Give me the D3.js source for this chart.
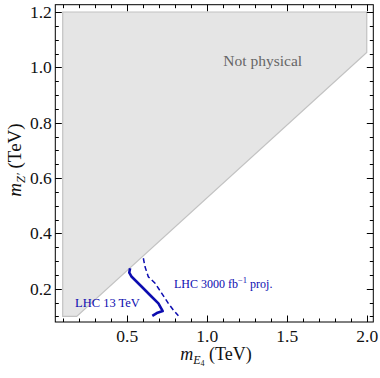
<!DOCTYPE html>
<html lang="en">
<head>
<meta charset="UTF-8">
<title>Z' vs E4 mass plane</title>
<script src="https://d3js.org/d3.v7.min.js"></script>
<style>
  body { margin: 0; background: #fff; }
  text { font-family: "Liberation Serif", "Times New Roman", serif; }
</style>
</head>
<body>
<svg id="chart" width="380" height="378"></svg>
<script>
// shaded "not physical" region corners (TeV)
const regionX = [0.1, 0.1, 2.0, 2.0, 0.1875];
const regionY = [0.1, 1.2, 1.2, 1.054, 0.1];

// LHC 13 TeV limit (solid)
const lhc13X = [0.521, 0.516, 0.531, 0.594, 0.656, 0.698, 0.725, 0.688, 0.660];
const lhc13Y = [0.274, 0.258, 0.243, 0.207, 0.171, 0.147, 0.119, 0.112, 0.102];

// 3000 fb^-1 projection (dashed)
const projX = [0.604, 0.614, 0.635, 0.677, 0.719, 0.760, 0.791, 0.823];
const projY = [0.310, 0.280, 0.243, 0.220, 0.183, 0.147, 0.123, 0.102];

const xMajor = [0.5, 1.0, 1.5, 2.0];
const yMajor = [0.2, 0.4, 0.6, 0.8, 1.0, 1.2];

const svg = d3.select("#chart");
const x = d3.scaleLinear().domain([0.0537, 2.041]).range([55.3, 373.3]);
const y = d3.scaleLinear().domain([0.0796, 1.2264]).range([322, 4.7]);
const blue = "#0c0cb0";

// shaded region
svg.append("path")
  .attr("d", d3.line()(regionX.map((d, i) => [x(d), y(regionY[i])])) + "Z")
  .attr("fill", "#e5e5e5")
  .attr("stroke", "#c2c2c2")
  .attr("stroke-width", 1.2);

svg.append("text")
  .attr("x", x(1.35)).attr("y", y(1.005))
  .attr("text-anchor", "middle")
  .attr("font-size", 15.5)
  .attr("fill", "#666")
  .text("Not physical");

// limit curves
const line = d3.line().x(d => x(d[0])).y(d => y(d[1]));
svg.append("path")
  .attr("d", line(lhc13X.map((d, i) => [d, lhc13Y[i]])))
  .attr("fill", "none").attr("stroke", blue)
  .attr("stroke-width", 2.6).attr("stroke-linejoin", "round");
svg.append("path")
  .attr("d", line(projX.map((d, i) => [d, projY[i]])))
  .attr("fill", "none").attr("stroke", blue)
  .attr("stroke-width", 1.5).attr("stroke-dasharray", "5,3");

svg.append("text")
  .attr("x", 75).attr("y", 306.5)
  .attr("font-size", 12.5).attr("fill", blue)
  .text("LHC 13 TeV");

const proj = svg.append("text")
  .attr("x", 174).attr("y", 288)
  .attr("font-size", 12).attr("fill", blue);
proj.append("tspan").text("LHC 3000 fb");
proj.append("tspan").attr("dy", -5).attr("font-size", 8.5).text("\u22121");
proj.append("tspan").attr("dy", 5).text(" proj.");

// frame with ticks on all sides
const plot = svg.append("g");
const xAxisB = d3.axisBottom(x).tickValues(xMajor).tickSize(0).tickPadding(8)
  .tickFormat(d3.format(".1f"));
const yAxisL = d3.axisLeft(y).tickValues(yMajor).tickSize(0).tickPadding(3.5)
  .tickFormat(d3.format(".1f"));

const gx = plot.append("g").attr("transform", "translate(0,322)").call(xAxisB);
const gy = plot.append("g").attr("transform", "translate(55.3,0)").call(yAxisL);
[gx, gy].forEach(g => {
  g.select(".domain").remove();
  g.selectAll("text").attr("font-size", 17.5).attr("fill", "#111")
    .attr("font-family", "Liberation Serif, serif");
});

svg.append("rect")
  .attr("x", 55.3).attr("y", 4.7)
  .attr("width", 318).attr("height", 317.3)
  .attr("fill", "none").attr("stroke", "#000").attr("stroke-width", 1);

const xMinor = d3.range(1, 21).map(i => i / 10);
const yMinor = d3.range(2, 25).map(i => i * 0.05);
const isMajX = v => xMajor.some(m => Math.abs(m - v) < 1e-6);
const isMajY = v => yMajor.some(m => Math.abs(m - v) < 1e-6);

const ticks = svg.append("g").attr("stroke", "#000").attr("stroke-width", 1);
xMinor.forEach(v => {
  const len = isMajX(v) ? 6.5 : 3.5;
  const px = Math.round(x(v)) + 0.5;
  ticks.append("line").attr("x1", px).attr("x2", px).attr("y1", 322).attr("y2", 322 - len);
  ticks.append("line").attr("x1", px).attr("x2", px).attr("y1", 4.7).attr("y2", 4.7 + len);
});
yMinor.forEach(v => {
  const len = isMajY(v) ? 6.5 : 3.5;
  const py = Math.round(y(v)) + 0.5;
  ticks.append("line").attr("x1", 55.3).attr("x2", 55.3 + len).attr("y1", py).attr("y2", py);
  ticks.append("line").attr("x1", 373.3).attr("x2", 373.3 - len).attr("y1", py).attr("y2", py);
});

// axis titles
const xt = svg.append("text")
  .attr("x", 216).attr("y", 360)
  .attr("text-anchor", "middle").attr("font-size", 18).attr("fill", "#111");
xt.append("tspan").attr("font-style", "italic").text("m");
xt.append("tspan").attr("font-style", "italic").attr("font-size", 12).attr("dy", 3.5).text("E");
xt.append("tspan").attr("font-size", 8).attr("dy", 2).text("4");
xt.append("tspan").attr("dy", -5.5).text(" (TeV)");

const yt = svg.append("text")
  .attr("transform", "translate(21,160) rotate(-90)")
  .attr("text-anchor", "middle").attr("font-size", 19).attr("fill", "#111");
yt.append("tspan").attr("font-style", "italic").text("m");
yt.append("tspan").attr("font-style", "italic").attr("font-size", 12.5).attr("dy", 4).text("Z\u2032");
yt.append("tspan").attr("dy", -4).text(" (TeV)");
</script>
</body>
</html>
